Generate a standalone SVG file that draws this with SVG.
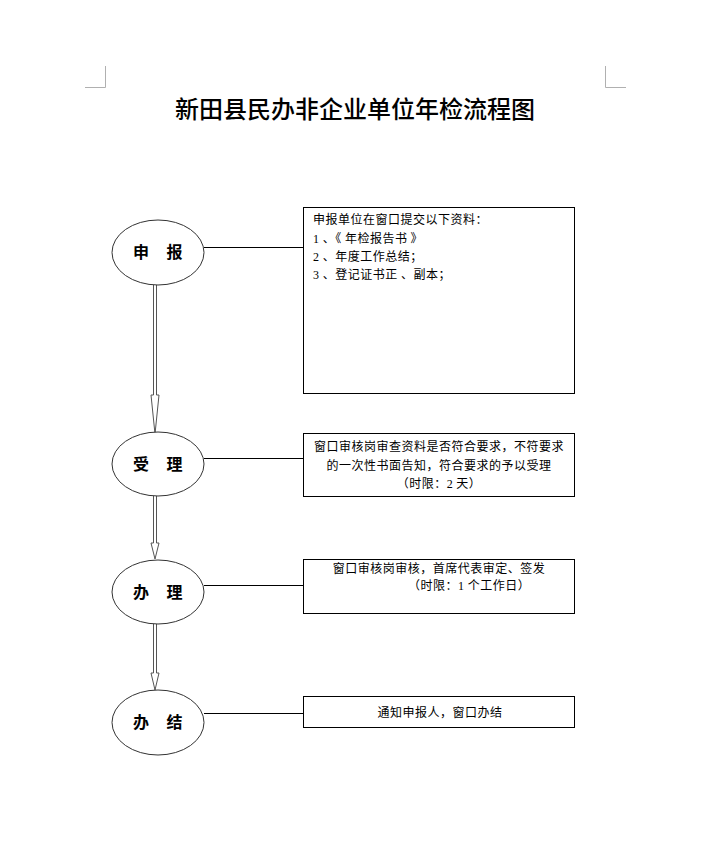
<svg xmlns="http://www.w3.org/2000/svg" width="711" height="861" viewBox="0 0 711 861">
<style>
.bg{fill:#fff}
.mark{stroke:#b0b0b0;stroke-width:1;fill:none}
.title{font-family:"Noto Sans CJK SC","Noto Sans",sans-serif;font-size:24px;font-weight:500;fill:#000}
.ell{fill:#fff;stroke:#333;stroke-width:1}
.lab{font-family:"Noto Sans CJK SC",sans-serif;font-size:16px;font-weight:700;fill:#000;text-anchor:middle}
.box{fill:#fff;stroke:#000;stroke-width:1}
.t{font-family:"Noto Sans CJK SC",sans-serif;font-size:12px;fill:#000;letter-spacing:0.5px}
.tc{text-anchor:middle}
.num{font-family:"Liberation Serif",serif}
.link{stroke:#000;stroke-width:1;fill:none}
.arr{stroke:#555;stroke-width:1;fill:#fff}
</style>
<rect class="bg" x="0" y="0" width="711" height="861"/>
<path class="mark" d="M105.5,66 V87.5 H85 M605.5,66 V87.5 H626"/>
<text class="title" x="355" y="118" text-anchor="middle">新田县民办非企业单位年检流程图</text>
<g id="connectors">
<line class="link" x1="204" y1="247.5" x2="303" y2="247.5"/>
<line class="link" x1="204" y1="458.5" x2="303" y2="458.5"/>
<line class="link" x1="204" y1="585.5" x2="303" y2="585.5"/>
<line class="link" x1="204" y1="713.5" x2="303" y2="713.5"/>
<path class="arr" d="M153.5,285 V395 H151 L155,434 L159,395 H156.5 V285"/>
<path class="arr" d="M153.5,496 V543 H151 L155,559 L159,543 H156.5 V496"/>
<path class="arr" d="M153.5,624 V673 H151 L155,690 L159,673 H156.5 V624"/>
</g>
<g id="n1">
<ellipse class="ell" cx="158" cy="252.5" rx="46" ry="32.5"/>
<text class="lab" y="258"><tspan x="141">申</tspan><tspan x="174.5">报</tspan></text>
</g>
<g id="b1">
<rect class="box" x="303.5" y="207.5" width="271" height="186"/>
<text class="t" x="313" y="224">申报单位在窗口提交以下资料：</text>
<text class="t" x="313" y="243"><tspan class="num">1</tspan> 、《 年检报告书 》</text>
<text class="t" x="313" y="261"><tspan class="num">2</tspan> 、年度工作总结；</text>
<text class="t" x="313" y="279"><tspan class="num">3</tspan> 、登记证书正 、副本；</text>
</g>
<g id="n2">
<ellipse class="ell" cx="158" cy="464" rx="46" ry="32"/>
<text class="lab" y="470"><tspan x="141">受</tspan><tspan x="174.5">理</tspan></text>
</g>
<g id="b2">
<rect class="box" x="303.5" y="433.5" width="271" height="63"/>
<text class="t tc" x="439" y="451">窗口审核岗审查资料是否符合要求，不符要求</text>
<text class="t tc" x="439" y="470">的一次性书面告知，符合要求的予以受理</text>
<text class="t tc" x="439" y="488">（时限：<tspan class="num">2</tspan> 天）</text>
</g>
<g id="n3">
<ellipse class="ell" cx="158" cy="592" rx="46" ry="32"/>
<text class="lab" y="598"><tspan x="141">办</tspan><tspan x="174.5">理</tspan></text>
</g>
<g id="b3">
<rect class="box" x="303.5" y="559.5" width="271" height="54"/>
<text class="t tc" x="439" y="573">窗口审核岗审核，首席代表审定、签发</text>
<text class="t" x="408" y="590">（时限：<tspan class="num">1</tspan> 个工作日）</text>
</g>
<g id="n4">
<ellipse class="ell" cx="158" cy="722.5" rx="46" ry="32.5"/>
<text class="lab" y="728"><tspan x="141">办</tspan><tspan x="174.5">结</tspan></text>
</g>
<g id="b4">
<rect class="box" x="303.5" y="696.5" width="271" height="31"/>
<text class="t tc" x="440" y="717">通知申报人，窗口办结</text>
</g>
</svg>
